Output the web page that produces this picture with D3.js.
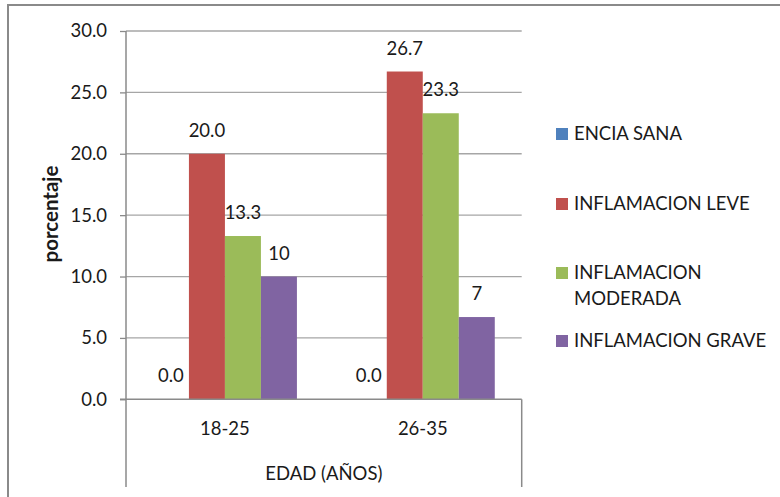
<!DOCTYPE html>
<html>
<head>
<meta charset="utf-8">
<script src="https://cdn.jsdelivr.net/npm/d3@7"></script>
<style>
  html, body { margin: 0; padding: 0; background: #fff; }
  svg { display: block; }
  text { font-family: Lato, "Open Sans", sans-serif; fill: #1a1a1a; }
</style>
</head>
<body>
<svg id="chart" width="780" height="497"></svg>
<script>
// Age groups and gum-condition series (percent of patients)
const categories = ["18-25", "26-35"];
const seriesNames = ["ENCIA SANA", "INFLAMACION LEVE", "INFLAMACION MODERADA", "INFLAMACION GRAVE"];
const sanaValues = [0.0, 0.0];
const leveValues = [20.0, 26.7];
const moderadaValues = [13.3, 23.3];
const graveValues = [10.0, 6.7];
const seriesColors = ["#4F81BD", "#C0504D", "#9BBB59", "#8064A2"];
const labelFormats = [".1f", ".1f", ".1f", ".0f"];
const yTicks = [0, 5, 10, 15, 20, 25, 30];
const yTitle = "porcentaje";
const xTitle = "EDAD (AÑOS)";

const seriesValues = [sanaValues, leveValues, moderadaValues, graveValues];

const svg = d3.select("#chart");

// Chart frame
svg.append("rect")
  .attr("x", 8).attr("y", 5)
  .attr("width", 800).attr("height", 520)
  .attr("fill", "none").attr("stroke", "#8a8a8a").attr("stroke-width", 2);

const plot = { left: 126, right: 521.7, top: 31, bottom: 399.3, catBottom: 487 };

const y = d3.scaleLinear().domain([0, 30]).range([plot.bottom, plot.top]);
const x0 = d3.scaleBand().domain(categories).range([plot.left, plot.right]).padding(0);
const x1 = d3.scaleBand().domain(d3.range(seriesNames.length))
  .range([0, x0.bandwidth()]).paddingInner(0).paddingOuter(0.748);

// Horizontal gridlines
svg.append("g").selectAll("line")
  .data(yTicks.filter(t => t !== 0))
  .join("line")
  .attr("x1", plot.left).attr("x2", plot.right)
  .attr("y1", d => y(d)).attr("y2", d => y(d))
  .attr("stroke", "#a6a6a6").attr("stroke-width", 1.3);

// Y axis
const yAxis = svg.append("g")
  .attr("transform", `translate(${plot.left},0)`)
  .call(d3.axisLeft(y).tickValues(yTicks).tickFormat(d3.format(".1f")).tickSize(6).tickPadding(13));
yAxis.select(".domain").remove();
yAxis.selectAll(".tick line").attr("stroke", "#8a8a8a").attr("stroke-width", 1.3);
yAxis.selectAll(".tick text")
  .attr("font-family", "Lato, 'Open Sans', sans-serif")
  .attr("font-size", 18.5).attr("fill", "#1a1a1a");

// Axis lines and category area separators
svg.append("line")
  .attr("x1", plot.left).attr("x2", plot.left)
  .attr("y1", plot.top).attr("y2", plot.catBottom)
  .attr("stroke", "#8a8a8a").attr("stroke-width", 1.5);
svg.append("line")
  .attr("x1", plot.right).attr("x2", plot.right)
  .attr("y1", plot.bottom).attr("y2", plot.catBottom)
  .attr("stroke", "#8a8a8a").attr("stroke-width", 1.5);

// Bars
const bars = [];
seriesValues.forEach((vals, s) => {
  vals.forEach((v, c) => bars.push({ s, c, v }));
});

svg.append("g").selectAll("rect")
  .data(bars)
  .join("rect")
  .attr("x", d => x0(categories[d.c]) + x1(d.s))
  .attr("width", x1.bandwidth())
  .attr("y", d => y(d.v))
  .attr("height", d => y(0) - y(d.v))
  .attr("fill", d => seriesColors[d.s]);

svg.append("line")
  .attr("x1", plot.left - 6).attr("x2", plot.right)
  .attr("y1", plot.bottom).attr("y2", plot.bottom)
  .attr("stroke", "#8a8a8a").attr("stroke-width", 1.5);

// Value labels above bars
svg.append("g").selectAll("text")
  .data(bars)
  .join("text")
  .attr("x", d => x0(categories[d.c]) + x1(d.s) + x1.bandwidth() / 2)
  .attr("y", d => y(d.v) - 17)
  .attr("text-anchor", "middle")
  .attr("font-size", 18.5)
  .text(d => d3.format(labelFormats[d.s])(d.v));

// Category labels
svg.append("g").selectAll("text")
  .data(categories)
  .join("text")
  .attr("x", d => x0(d) + x0.bandwidth() / 2)
  .attr("y", 435)
  .attr("text-anchor", "middle")
  .attr("font-size", 18.5)
  .text(d => d);

// Axis titles
svg.append("text")
  .attr("x", (plot.left + plot.right) / 2)
  .attr("y", 480)
  .attr("text-anchor", "middle")
  .attr("font-size", 18.5)
  .text(xTitle);

svg.append("text")
  .attr("transform", "translate(58,214) rotate(-90)")
  .attr("text-anchor", "middle")
  .attr("font-size", 20.5)
  .attr("font-weight", "bold")
  .text(yTitle);

// Legend
const legendRows = [134, 204, 273, 341];
const legend = svg.append("g").selectAll("g")
  .data(seriesNames)
  .join("g")
  .attr("transform", (d, i) => `translate(556,${legendRows[i]})`);
legend.append("rect")
  .attr("x", 0).attr("y", -6)
  .attr("width", 12).attr("height", 12)
  .attr("fill", (d, i) => seriesColors[i]);
legend.append("text")
  .attr("x", 18)
  .attr("y", 0)
  .attr("dy", "0.35em")
  .attr("font-size", 18.5)
  .each(function (d) {
    const words = d.split(" ");
    const t = d3.select(this);
    if (d.length > 18) {
      t.append("tspan").attr("x", 18).text(words[0]);
      t.append("tspan").attr("x", 18).attr("dy", 26).text(words.slice(1).join(" "));
    } else {
      t.text(d);
    }
  });
</script>
</body>
</html>
